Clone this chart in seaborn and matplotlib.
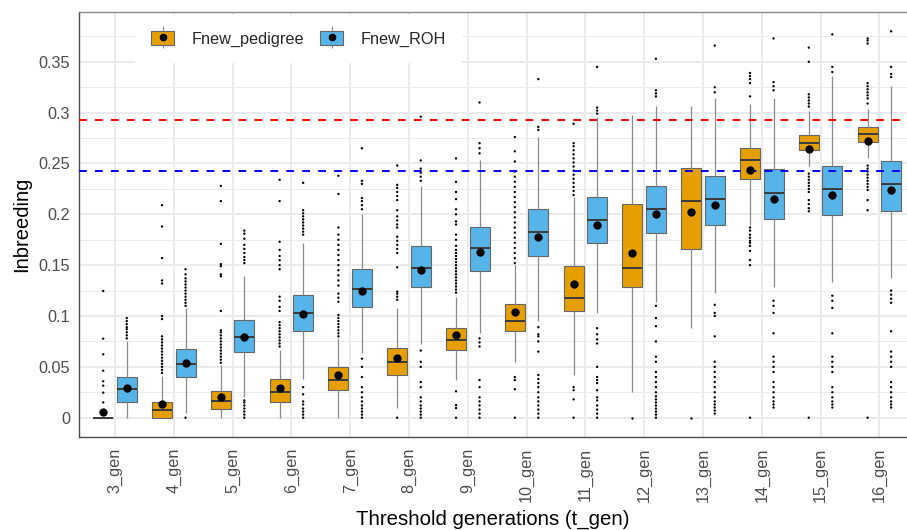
import numpy as np
import pandas as pd
import matplotlib
matplotlib.use("Agg")
import matplotlib.pyplot as plt
import seaborn as sns
from matplotlib.patches import Patch
from matplotlib.lines import Line2D
from matplotlib.legend_handler import HandlerTuple

# Data
# ----------------------------------------------------
gens = ["3_gen", "4_gen", "5_gen", "6_gen", "7_gen", "8_gen", "9_gen",
        "10_gen", "11_gen", "12_gen", "13_gen", "14_gen", "15_gen", "16_gen"]
groups = ["Fnew_pedigree", "Fnew_ROH"]
colors = ["#E69F00", "#56B4E9"]

# Fnew_pedigree box stats
ped_lo = [0, 0, 0, 0, 0, 0.010, 0.037, 0.055, 0.042, 0.0256, 0.0878, 0.190, 0.248, 0.255]
ped_q1 = [0, 0, 0.0082, 0.0157, 0.0272, 0.042, 0.0666, 0.0855, 0.1046, 0.1281, 0.1655, 0.2346, 0.2628, 0.2713]
ped_med = [0, 0.0075, 0.016, 0.0256, 0.037, 0.0544, 0.0764, 0.0953, 0.1174, 0.1471, 0.213, 0.2539, 0.2703, 0.2792]
ped_q3 = [0, 0.0157, 0.0262, 0.0377, 0.0501, 0.0685, 0.0879, 0.1117, 0.1494, 0.2097, 0.2451, 0.2654, 0.2785, 0.286]
ped_hi = [0, 0.041, 0.052, 0.067, 0.078, 0.108, 0.119, 0.150, 0.217, 0.2975, 0.3064, 0.309, 0.302, 0.304]
ped_mean = [0.0056, 0.013, 0.0203, 0.0295, 0.0416, 0.059, 0.081, 0.104, 0.1311, 0.1622, 0.2022, 0.2434, 0.2638, 0.2723]
ped_out = [
    [0.015, 0.0246, 0.0315, 0.0358, 0.0462, 0.0623, 0.0777, 0.1246],
    [0.044, 0.047, 0.050, 0.053, 0.056, 0.059, 0.062, 0.065, 0.068, 0.071, 0.074, 0.077, 0.080,
     0.097, 0.100, 0.132, 0.135, 0.157, 0.188, 0.209],
    [0.054, 0.057, 0.060, 0.063, 0.066, 0.069, 0.072, 0.075, 0.078, 0.081, 0.084, 0.086,
     0.105, 0.139, 0.141, 0.149, 0.151, 0.171, 0.213, 0.228],
    [0.070, 0.073, 0.076, 0.079, 0.082, 0.085, 0.088, 0.091, 0.094, 0.105, 0.109, 0.115, 0.119,
     0.146, 0.150, 0.155, 0.159, 0.165, 0.173, 0.213, 0.234],
    [0.080, 0.083, 0.086, 0.089, 0.092, 0.095, 0.098, 0.101, 0.114, 0.118, 0.122, 0.130, 0.135,
     0.140, 0.145, 0.150, 0.155, 0.160, 0.165, 0.170, 0.175, 0.180, 0.187, 0.220, 0.238],
    [0.0, 0.116, 0.119, 0.122, 0.124, 0.148, 0.162, 0.166, 0.170, 0.174, 0.178, 0.187, 0.190,
     0.194, 0.198, 0.204, 0.214, 0.218, 0.222, 0.226, 0.229, 0.248],
    [0.0, 0.0095, 0.0125, 0.026, 0.123, 0.126, 0.129, 0.132, 0.135, 0.138, 0.141, 0.144, 0.147,
     0.150, 0.153, 0.156, 0.159, 0.162, 0.165, 0.169, 0.175, 0.180, 0.190, 0.193, 0.200, 0.205,
     0.215, 0.222, 0.232, 0.255],
    [0.0, 0.028, 0.037, 0.040, 0.152, 0.157, 0.162, 0.167, 0.172, 0.177, 0.182, 0.187, 0.192,
     0.197, 0.202, 0.207, 0.212, 0.217, 0.222, 0.227, 0.232, 0.237, 0.242, 0.252, 0.262, 0.276],
    [0.0, 0.018, 0.027, 0.030, 0.219, 0.223, 0.227, 0.231, 0.235, 0.239, 0.243, 0.247, 0.251,
     0.255, 0.259, 0.263, 0.267, 0.270, 0.289],
    [0.0],
    [0.0],
    [0.0, 0.150, 0.155, 0.164, 0.169, 0.172, 0.174, 0.177, 0.180, 0.184, 0.187,
     0.316, 0.329, 0.333, 0.336, 0.339],
    [0.0, 0.203, 0.206, 0.210, 0.214, 0.222, 0.225, 0.228, 0.231, 0.234, 0.237, 0.240,
     0.306, 0.309, 0.312, 0.315, 0.318, 0.350, 0.364],
    [0.0, 0.204, 0.214, 0.224, 0.227, 0.230, 0.233, 0.236, 0.239, 0.242, 0.245, 0.248,
     0.309, 0.314, 0.317, 0.320, 0.323, 0.326, 0.329, 0.368, 0.371, 0.373],
]

# Fnew_ROH box stats
roh_lo = [0, 0.005, 0.020, 0.0377, 0.064, 0.072, 0.083, 0.0953, 0.1026, 0.114, 0.1222, 0.1288, 0.1337, 0.137]
roh_q1 = [0.0157, 0.0403, 0.0642, 0.0855, 0.1085, 0.1281, 0.1442, 0.1589, 0.1714, 0.1812, 0.190, 0.1956, 0.1992, 0.2028]
roh_med = [0.0279, 0.0528, 0.079, 0.103, 0.1268, 0.1474, 0.1668, 0.1825, 0.1943, 0.2051, 0.215, 0.2212, 0.2251, 0.2294]
roh_q3 = [0.0403, 0.0672, 0.096, 0.1206, 0.1465, 0.1687, 0.1877, 0.2048, 0.2166, 0.2277, 0.2375, 0.2441, 0.248, 0.2526]
roh_hi = [0.075, 0.108, 0.139, 0.172, 0.200, 0.228, 0.253, 0.276, 0.296, 0.307, 0.314, 0.314, 0.336, 0.326]
roh_mean = [0.029, 0.0534, 0.079, 0.102, 0.1245, 0.145, 0.163, 0.178, 0.1894, 0.2005, 0.2094, 0.2153, 0.2192, 0.2238]
roh_out = [
    [0.078, 0.081, 0.084, 0.087, 0.089, 0.092, 0.095, 0.098],
    [0.0, 0.110, 0.113, 0.116, 0.119, 0.122, 0.125, 0.128, 0.131, 0.134, 0.137, 0.141, 0.146],
    [0.0, 0.003, 0.006, 0.009, 0.012, 0.015, 0.017, 0.152, 0.155, 0.158, 0.162, 0.166, 0.170,
     0.176, 0.181, 0.184],
    [0.0, 0.003, 0.006, 0.009, 0.013, 0.016, 0.023, 0.030, 0.180, 0.183, 0.186, 0.189, 0.192,
     0.195, 0.198, 0.201, 0.204, 0.231],
    [0.0, 0.003, 0.006, 0.009, 0.012, 0.016, 0.020, 0.025, 0.030, 0.040, 0.050, 0.058,
     0.205, 0.209, 0.213, 0.216, 0.230, 0.233, 0.265],
    [0.0, 0.003, 0.006, 0.009, 0.012, 0.016, 0.020, 0.030, 0.035, 0.050, 0.055, 0.066,
     0.233, 0.237, 0.241, 0.245, 0.253, 0.296],
    [0.0, 0.004, 0.008, 0.012, 0.016, 0.020, 0.030, 0.037, 0.070, 0.074, 0.078,
     0.260, 0.265, 0.270, 0.310],
    [0.0, 0.004, 0.008, 0.012, 0.016, 0.020, 0.025, 0.030, 0.034, 0.038, 0.042, 0.065, 0.075,
     0.080, 0.082, 0.089, 0.283, 0.286, 0.333],
    [0.0, 0.004, 0.008, 0.012, 0.017, 0.020, 0.027, 0.034, 0.037, 0.040, 0.050, 0.073, 0.077,
     0.082, 0.088, 0.299, 0.302, 0.305, 0.345],
    [0.0, 0.003, 0.006, 0.009, 0.012, 0.015, 0.018, 0.021, 0.025, 0.030, 0.035, 0.040, 0.045,
     0.055, 0.060, 0.075, 0.090, 0.098, 0.110, 0.316, 0.319, 0.322, 0.353],
    [0.004, 0.007, 0.010, 0.013, 0.016, 0.020, 0.025, 0.030, 0.035, 0.040, 0.045, 0.050, 0.055,
     0.080, 0.100, 0.103, 0.111, 0.320, 0.325, 0.366],
    [0.010, 0.013, 0.016, 0.020, 0.025, 0.030, 0.035, 0.045, 0.050, 0.055, 0.060, 0.083, 0.103,
     0.110, 0.115, 0.322, 0.326, 0.330, 0.373],
    [0.010, 0.013, 0.016, 0.020, 0.025, 0.030, 0.045, 0.050, 0.055, 0.060, 0.083, 0.108, 0.115,
     0.120, 0.340, 0.345, 0.377],
    [0.010, 0.013, 0.016, 0.020, 0.025, 0.030, 0.035, 0.050, 0.055, 0.060, 0.065, 0.085, 0.113,
     0.117, 0.121, 0.125, 0.335, 0.338, 0.345, 0.380],
]

ped_threshold = 0.2926
roh_threshold = 0.2431

# Long tables for seaborn
# ----------------------------------------------------
box_rows, out_rows, mean_rows = [], [], []
stats = {
    "Fnew_pedigree": (ped_lo, ped_q1, ped_med, ped_q3, ped_hi, ped_mean, ped_out),
    "Fnew_ROH": (roh_lo, roh_q1, roh_med, roh_q3, roh_hi, roh_mean, roh_out),
}
for grp, (lo, q1, med, q3, hi, mn, out) in stats.items():
    for i, g in enumerate(gens):
        # five points -> quartiles land exactly on q1/med/q3, whiskers on lo/hi
        for v in (lo[i], q1[i], med[i], q3[i], hi[i]):
            box_rows.append({"gen": g, "group": grp, "value": v})
        for v in out[i]:
            out_rows.append({"gen": g, "group": grp, "value": v})
        mean_rows.append({"gen": g, "group": grp, "value": mn[i]})
box_df = pd.DataFrame(box_rows)
out_df = pd.DataFrame(out_rows)
mean_df = pd.DataFrame(mean_rows)

# Plot
# ----------------------------------------------------
sns.set_theme(style="white")
plt.rcParams["font.family"] = ["Liberation Sans", "DejaVu Sans"]

fig = plt.figure(figsize=(9.07, 5.30), dpi=100)
ax = fig.add_axes([79 / 907, 93 / 530, 828 / 907, 425 / 530])

pal = dict(zip(groups, colors))
black = {g: "black" for g in groups}

sns.boxplot(data=box_df, x="gen", y="value", hue="group", order=gens, hue_order=groups,
            palette=pal, saturation=1, whis=(0, 100), width=0.8, gap=0.15,
            linecolor="#666666", linewidth=0.8, fliersize=0, showcaps=False,
            medianprops=dict(color="#3a3a3a", linewidth=1.4),
            whiskerprops=dict(color="#8a8a8a", linewidth=0.9),
            legend=False, ax=ax)

sns.stripplot(data=out_df, x="gen", y="value", hue="group", order=gens, hue_order=groups,
              palette=black, dodge=True, jitter=False, size=1.7, linewidth=0,
              legend=False, ax=ax, zorder=3)

ax.axhline(ped_threshold, color="#FF0000", lw=1.4, ls=(0, (4, 4.2)), zorder=4)
ax.axhline(roh_threshold, color="#0000FF", lw=1.4, ls=(0, (4, 4.2)), zorder=4)

sns.stripplot(data=mean_df, x="gen", y="value", hue="group", order=gens, hue_order=groups,
              palette=black, dodge=True, jitter=False, size=6, linewidth=0,
              legend=False, ax=ax, zorder=6)

# Axes styling (theme_bw look)
# ----------------------------------------------------
ax.set_xlim(-0.612, 13.47)
ax.set_ylim(-0.019, 0.399)
yt = [0, 0.05, 0.1, 0.15, 0.2, 0.25, 0.3, 0.35]
ax.set_yticks(yt)
ax.set_yticklabels(["0", "0.05", "0.1", "0.15", "0.2", "0.25", "0.3", "0.35"])
ax.set_yticks(np.arange(0.025, 0.4, 0.05), minor=True)

ax.set_axisbelow(True)
ax.grid(True, which="major", axis="both", color="#EBEBEB", lw=1.4)
ax.grid(True, which="minor", axis="y", color="#EBEBEB", lw=0.7)

for side in ["left", "bottom", "top"]:
    ax.spines[side].set_visible(True)
    ax.spines[side].set_color("#4d4d4d")
    ax.spines[side].set_linewidth(1.0)
ax.spines["top"].set_color("#8a8a8a")
ax.spines["right"].set_visible(False)

ax.tick_params(axis="both", which="major", length=4, width=0.9, color="#333333",
               labelcolor="#4D4D4D", labelsize=11.7, pad=2.5)
ax.tick_params(axis="y", which="minor", length=0)
ax.tick_params(axis="x", which="major", labelrotation=90, pad=4)

ax.set_xlabel("Threshold generations (t_gen)", fontsize=14.7, color="black", labelpad=5)
ax.set_ylabel("Inbreeding", fontsize=14.5, color="black", labelpad=5)

# Legend with box-shaped keys
handles = []
for c in colors:
    whisker = Line2D([], [], marker="|", markersize=16, markeredgewidth=0.8,
                     color="#8a8a8a", linestyle="none")
    box = Patch(facecolor=c, edgecolor="#666666", linewidth=0.8)
    dot = Line2D([], [], marker="o", markersize=4.5, color="black", linestyle="none")
    handles.append((whisker, box, dot))
ax.legend(handles, groups, handler_map={tuple: HandlerTuple(ndivide=1, pad=0)}, ncol=2,
          loc="center left", bbox_to_anchor=(0.0676, 0.9365), borderaxespad=0,
          frameon=True, facecolor="white", edgecolor="none", framealpha=1, fancybox=False,
          fontsize=11.7, handlelength=1.42, handleheight=0.92, handletextpad=1.05,
          columnspacing=1.0, borderpad=1.0)

fig.savefig("out.png", dpi=100)
